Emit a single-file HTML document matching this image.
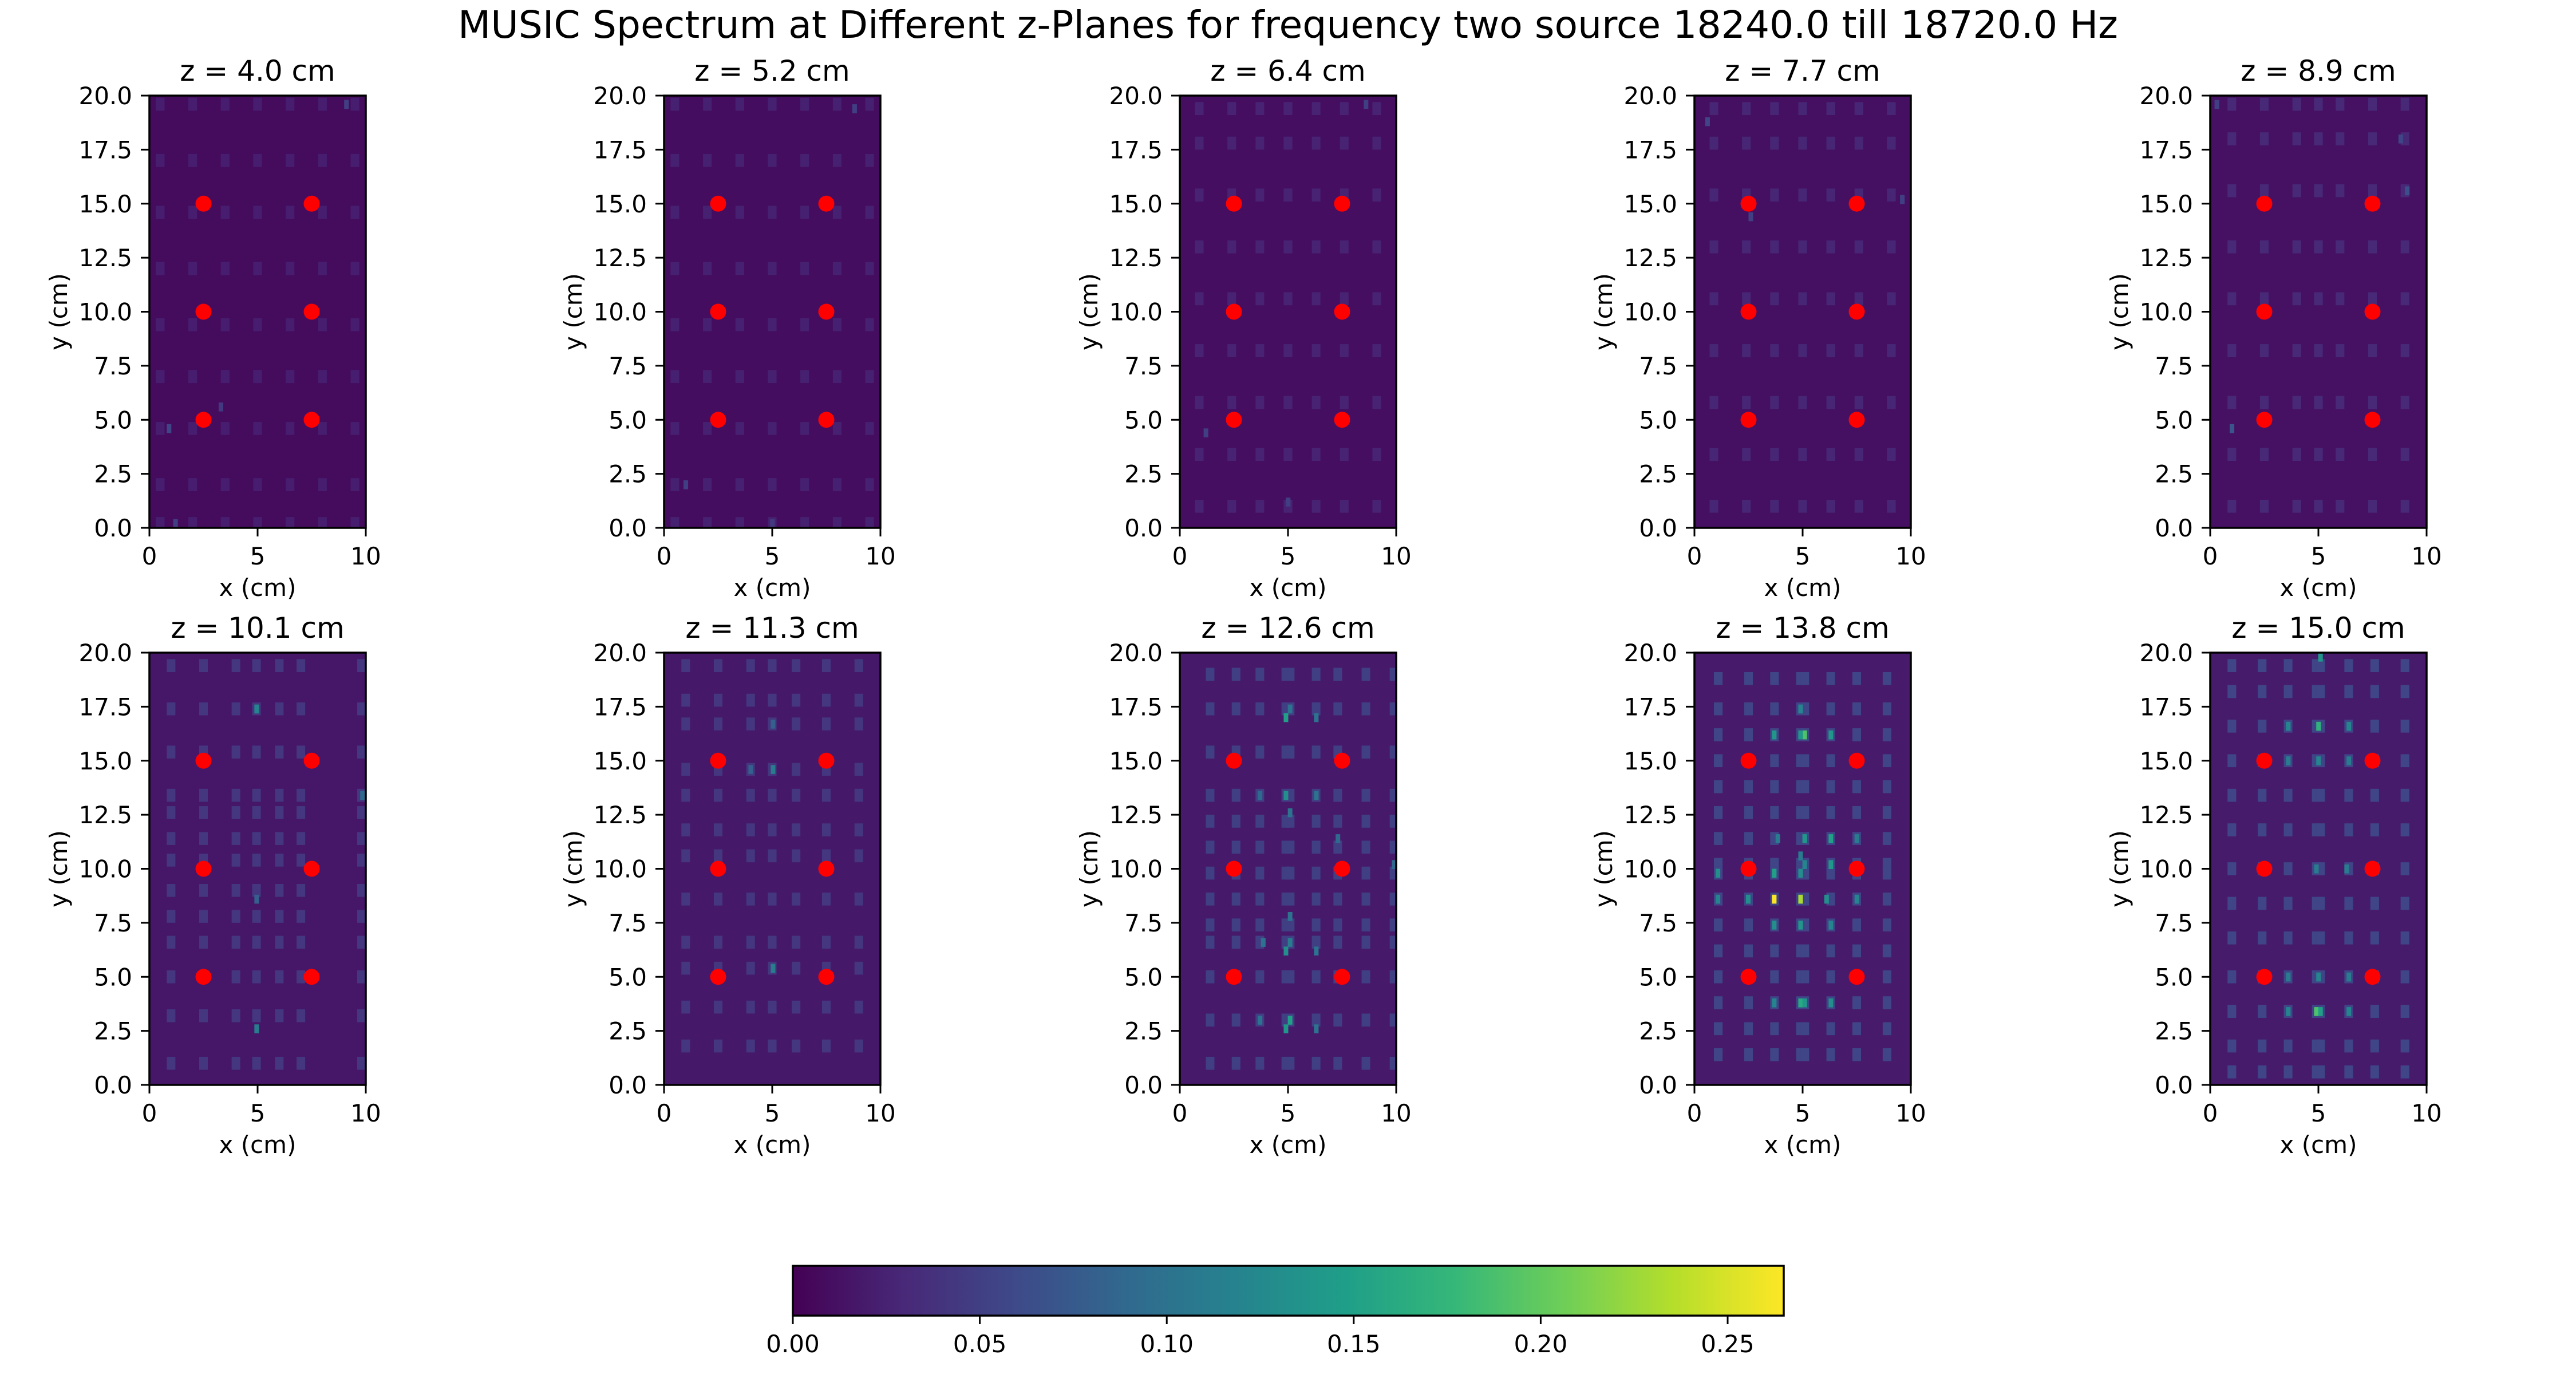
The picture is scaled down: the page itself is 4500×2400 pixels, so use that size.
<!DOCTYPE html>
<html><head><meta charset="utf-8">
<style>
html,body{margin:0;padding:0;background:#fff;}
svg{display:block;font-family:"DejaVu Sans","Liberation Sans",sans-serif;}
</style></head>
<body>
<svg id="fig" width="4500" height="2400" viewBox="0 0 4500 2400" xmlns="http://www.w3.org/2000/svg">
<rect width="4500" height="2400" fill="#fff"/>
<text x="2250" y="66" font-size="66" text-anchor="middle" textLength="2900" lengthAdjust="spacingAndGlyphs">MUSIC Spectrum at Different z-Planes for frequency two source 18240.0 till 18720.0 Hz</text>
<g id="panels"></g>
<g id="cbar"></g>
</svg>
<script>
// ---- data ----
const zPlanes = [4.0, 5.2, 6.4, 7.7, 8.9, 10.1, 11.3, 12.6, 13.8, 15.0];
const baseValues = [0.008, 0.009, 0.010, 0.011, 0.012, 0.016, 0.017, 0.018, 0.019, 0.020];
const latticeValues = [0.022, 0.024, 0.026, 0.028, 0.03, 0.042, 0.042, 0.05, 0.055, 0.055];
const latticeX = [
 [0.5,2.0,3.5,5.0,6.5,8.0,9.5],
 [0.5,2.0,3.5,5.0,6.5,8.0,9.5],
 [0.9,2.4,3.7,5.0,6.3,7.6,9.1],
 [0.9,2.4,3.7,5.0,6.3,7.6,9.1],
 [1.0,2.5,4.0,5.0,6.0,7.5,9.0],
 [1.0,2.5,4.0,4.95,6.0,7.0,9.8],
 [1.0,2.5,4.0,5.0,6.1,7.5,9.0],
 [1.4,2.6,3.7,4.9,5.1,6.3,7.3,8.6,9.9],
 [1.1,2.5,3.7,4.9,5.1,6.3,7.5,8.9],
 [1.0,2.4,3.6,4.9,5.1,6.4,7.6,9.0]
];
const latticeY = [
 [19.6,17.0,14.6,12.0,9.4,7.0,4.6,2.0,0.2],
 [19.6,17.0,14.6,12.0,9.4,7.0,4.6,2.0,0.2],
 [19.4,17.8,15.4,13.0,10.6,8.2,5.8,3.4,1.0],
 [19.4,17.8,15.4,13.0,10.6,8.2,5.8,3.4,1.0],
 [19.6,18.0,15.6,13.0,10.6,8.2,5.8,3.4,1.0],
 [19.4,17.4,15.4,13.4,12.6,11.4,10.4,9.0,7.8,6.6,5.0,3.2,1.0],
 [19.4,17.8,16.7,14.6,13.4,11.8,10.6,8.6,6.6,5.4,3.6,1.8],
 [19.0,17.4,15.4,13.4,12.2,11.0,9.8,8.6,7.4,6.6,5.0,3.0,1.0],
 [18.8,17.4,16.2,15.0,13.8,12.6,11.4,10.2,9.8,8.6,7.4,6.2,5.0,3.8,2.6,1.4],
 [19.4,18.2,16.6,15.0,13.4,11.8,10.0,8.4,6.8,5.0,3.4,1.8,0.6]
];
const hotX = [
 [0.9,1.2,9.1,3.3],
 [1.0,8.8,5.0],
 [1.2,5.0,8.6],
 [0.6,2.6,9.6],
 [1.0,9.1,0.3,8.8],
 [4.95,4.95,9.84,4.95],
 [5.03,5.03,4.0,5.03],
 [4.9,5.09,6.3,4.9,6.3,3.7,5.09,5.09,4.9,6.3,3.85,5.09,4.9,3.7,6.3,5.09,9.9,7.3],
 [3.68,4.9,5.09,4.9,3.68,6.3,4.9,5.09,6.3,7.5,3.85,1.08,3.68,4.9,5.09,6.3,1.08,2.48,6.1,7.5,3.68,4.9,6.3,4.9,5.09,3.68,6.3,4.9],
 [5.09,5.0,3.6,6.4,3.6,5.0,6.4,5.0,3.6,6.4,4.9,5.09,3.6,6.4,4.9,6.3]
];
const hotY = [
 [4.6,0.2,19.6,5.6],
 [2.0,19.4,0.2],
 [4.4,1.2,19.6],
 [18.8,14.4,15.2],
 [4.6,15.6,19.6,18.0],
 [17.4,2.6,13.4,8.6],
 [14.6,5.4,14.6,16.7],
 [17.0,17.4,17.0,13.4,13.4,13.4,12.6,6.6,6.2,6.2,6.6,3.0,2.6,3.0,2.6,7.8,10.2,11.4],
 [8.6,8.6,16.2,16.2,16.2,16.2,17.4,11.4,11.4,11.4,11.4,9.8,9.8,9.8,10.2,10.2,8.6,8.6,8.6,8.6,7.4,7.4,7.4,3.8,3.8,3.8,3.8,10.6],
 [19.8,16.6,16.6,16.6,15.0,15.0,15.0,5.0,5.0,5.0,3.4,3.4,3.4,3.4,10.0,10.0]
];
const hotV = [
 [0.055,0.05,0.05,0.045],
 [0.05,0.05,0.045],
 [0.05,0.05,0.05],
 [0.055,0.05,0.05],
 [0.07,0.065,0.05,0.055],
 [0.12,0.11,0.09,0.08],
 [0.11,0.11,0.08,0.08],
 [0.15,0.10,0.10,0.13,0.10,0.09,0.10,0.11,0.13,0.10,0.10,0.15,0.14,0.10,0.10,0.10,0.09,0.09],
 [0.265,0.23,0.19,0.14,0.14,0.14,0.12,0.14,0.15,0.11,0.11,0.13,0.15,0.13,0.12,0.14,0.12,0.13,0.13,0.12,0.13,0.14,0.12,0.16,0.14,0.12,0.13,0.11],
 [0.14,0.17,0.12,0.12,0.11,0.12,0.11,0.12,0.11,0.11,0.19,0.15,0.12,0.12,0.11,0.11]
];
const sourceX = [2.5, 7.5, 2.5, 7.5, 2.5, 7.5];
const sourceY = [15, 15, 10, 10, 5, 5];
const xTicks = [0, 5, 10];
const yTicks = [0, 2.5, 5, 7.5, 10, 12.5, 15, 17.5, 20];
const cbarTicks = [0, 0.05, 0.10, 0.15, 0.20, 0.25];
const cbarTickLabels = ["0.00","0.05","0.10","0.15","0.20","0.25"];
const vmax = 0.265;

// ---- layout ----
const NS = "http://www.w3.org/2000/svg";
const colLeft = [261, 1160, 2061, 2960, 3861];
const rowTop = [167, 1140];
const AW = 378, AH = 755;
const viridisStops = ["#440154","#482878","#3e4989","#31688e","#26828e","#1f9e89","#35b779","#6ece58","#b5de2b","#fde725"];
function hex(h){return [1,3,5].map(i=>parseInt(h.substr(i,2),16));}
function viridis(v){
  let t=Math.max(0,Math.min(1,v/vmax))*(viridisStops.length-1);
  let i=Math.min(Math.floor(t),viridisStops.length-2), f=t-i;
  let a=hex(viridisStops[i]), b=hex(viridisStops[i+1]);
  return "rgb("+a.map((c,k)=>Math.round(c+(b[k]-c)*f)).join(",")+")";
}
function mk(tag, attrs, parent){
  const e=document.createElementNS(NS,tag);
  for(const k in attrs) e.setAttribute(k,attrs[k]);
  parent.appendChild(e); return e;
}
const panels=document.getElementById("panels");
const cellW=0.2, cellH=0.4, latW=0.4, latH=0.6;
zPlanes.forEach((z,p)=>{
  const L=colLeft[p%5], T=rowTop[Math.floor(p/5)];
  const sx=v=>L+v/10*AW, sy=v=>T+AH-v/20*AH;
  const clipId="clip"+p;
  const cp=mk("clipPath",{id:clipId},panels);
  mk("rect",{x:L,y:T,width:AW,height:AH},cp);
  const g=mk("g",{},panels);
  
  
  const hm=mk("g",{"clip-path":"url(#"+clipId+")"},g);
  
  
  const bg=mk("rect",{x:L,y:T,width:AW,height:AH,fill:viridis(baseValues[p])},hm);
  
  
  latticeX[p].forEach(x=>latticeY[p].forEach(y=>{
    const c=mk("rect",{x:sx(x-latW/2),y:sy(y+latH/2),width:latW/10*AW,height:latH/20*AH,fill:viridis(latticeValues[p])},hm);
    
    
  }));
  hotX[p].forEach((x,i)=>{
    const c=mk("rect",{x:sx(x-cellW/2),y:sy(hotY[p][i]+cellH/2),width:cellW/10*AW+0.5,height:cellH/20*AH+0.5,fill:viridis(hotV[p][i])},hm);
    
    
  });
  sourceX.forEach((x,i)=>{
    const d=mk("circle",{cx:sx(x),cy:sy(sourceY[i]),r:14,fill:"#ff0000"},g);
    
    
  });
  const fr=mk("rect",{x:L,y:T,width:AW,height:AH,fill:"none",stroke:"#000","stroke-width":3.5},g);
  
  
  xTicks.forEach(v=>{
    mk("line",{x1:sx(v),x2:sx(v),y1:T+AH,y2:T+AH+15,stroke:"#000","stroke-width":3},g);
    const t=mk("text",{x:sx(v),y:T+AH+64,"font-size":42,"text-anchor":"middle"},g);
    
    
    t.textContent=String(v);
  });
  yTicks.forEach(v=>{
    mk("line",{x1:L-15,x2:L,y1:sy(v),y2:sy(v),stroke:"#000","stroke-width":3},g);
    const t=mk("text",{x:L-30,y:sy(v)+15,"font-size":42,"text-anchor":"end"},g);
    
    
    t.textContent=v.toFixed(1);
  });
  const xl=mk("text",{x:L+AW/2,y:T+AH+119,"font-size":42,"text-anchor":"middle"},g);
  
  
  xl.textContent="x (cm)";
  const yl=mk("text",{x:0,y:0,"font-size":42,"text-anchor":"middle",transform:"translate("+(L-144)+","+(T+AH/2)+") rotate(-90)"},g);
  
  
  yl.textContent="y (cm)";
  const tt=mk("text",{x:L+AW/2,y:T-26,"font-size":50,"text-anchor":"middle"},g);
  
  
  tt.textContent="z = "+z.toFixed(1)+" cm";
});

// colorbar
const cb=document.getElementById("cbar");


const CL=1385, CR=3116, CT=2211, CB=2298;
const defs=mk("defs",{},cb);
const grad=mk("linearGradient",{id:"vir",x1:0,x2:1,y1:0,y2:0},defs);
viridisStops.forEach((c,i)=>mk("stop",{offset:i/(viridisStops.length-1),"stop-color":c},grad));
const bar=mk("rect",{x:CL,y:CT,width:CR-CL,height:CB-CT,fill:"url(#vir)",stroke:"#000","stroke-width":3.5},cb);


const cx=v=>CL+v/vmax*(CR-CL);
cbarTicks.forEach((v,i)=>{
  mk("line",{x1:cx(v),x2:cx(v),y1:CB,y2:CB+15,stroke:"#000","stroke-width":3},cb);
  const t=mk("text",{x:cx(v),y:CB+64,"font-size":42,"text-anchor":"middle"},cb);
  
  
  t.textContent=cbarTickLabels[i];
});
</script>
</body></html>
